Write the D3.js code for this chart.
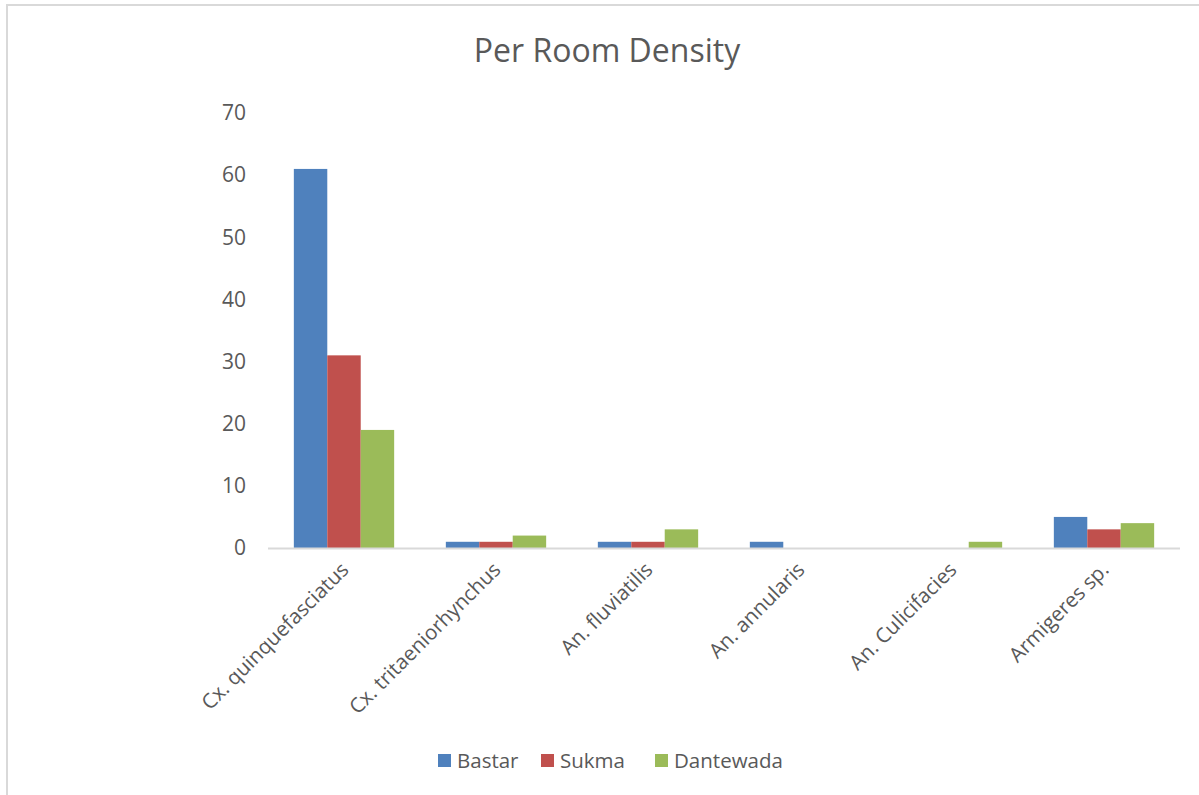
<!DOCTYPE html>
<html>
<head>
<meta charset="utf-8">
<script src="https://cdn.jsdelivr.net/npm/d3@7"></script>
<style>
  html, body { margin: 0; padding: 0; background: #fff; }
  svg { display: block; font-family: "Open Sans", "Noto Sans", sans-serif; }
</style>
</head>
<body>
<svg id="chart" width="1199" height="795"></svg>
<script>
// Per-room mosquito density by species and district
const categories = ["Cx. quinquefasciatus", "Cx. tritaeniorhynchus", "An. fluviatilis", "An. annularis", "An. Culicifacies", "Armigeres sp."];
const seriesNames = ["Bastar", "Sukma", "Dantewada"];
const bastar = [61, 1, 1, 1, 0, 5];
const sukma = [31, 1, 1, 0, 0, 3];
const dantewada = [19, 2, 3, 0, 1, 4];
const yTicks = [0, 10, 20, 30, 40, 50, 60, 70];
const colors = ["#4f81bd", "#c0504d", "#9bbb59"];

const values = [bastar, sukma, dantewada];
const svg = d3.select("#chart");

// chart frame
svg.append("path")
  .attr("d", "M7,795 V5 H1199")
  .attr("fill", "none")
  .attr("stroke", "#d9d9d9")
  .attr("stroke-width", 2);

const plot = { left: 268, right: 1180, top: 113, bottom: 548 };

const x0 = d3.scaleBand().domain(categories).range([plot.left, plot.right]).paddingInner(0.34).paddingOuter(0.17);
const x1 = d3.scaleBand().domain(seriesNames).range([0, x0.bandwidth()]);
const y = d3.scaleLinear().domain([0, 70]).range([plot.bottom, plot.top]);

// title
svg.append("text")
  .attr("x", 607).attr("y", 62)
  .attr("text-anchor", "middle")
  .attr("font-size", 32)
  .attr("fill", "#595959")
  .text("Per Room Density");

// y axis labels
const yAxis = svg.append("g").attr("transform", `translate(${plot.left - 22},0)`)
  .call(d3.axisLeft(y).tickValues(yTicks).tickSize(0).tickPadding(0));
yAxis.select(".domain").remove();
yAxis.selectAll("text").attr("font-size", 21).attr("fill", "#595959")
  .attr("font-family", "\"Open Sans\", \"Noto Sans\", sans-serif");

// bars
const groups = svg.append("g").selectAll("g")
  .data(seriesNames)
  .join("g")
  .attr("fill", (d, i) => colors[i]);

groups.selectAll("rect")
  .data((s, i) => categories.map((c, j) => ({ c, s, v: values[i][j] })))
  .join("rect")
  .filter(d => d.v > 0)
  .attr("x", d => x0(d.c) + x1(d.s))
  .attr("width", x1.bandwidth())
  .attr("y", d => y(d.v))
  .attr("height", d => y(0) - y(d.v));

// x axis line and rotated category labels
const xAxis = svg.append("g").attr("transform", `translate(0,${plot.bottom})`)
  .call(d3.axisBottom(x0).tickSize(0).tickPadding(0));
xAxis.select(".domain")
  .attr("d", `M${plot.left},0.5H${plot.right}`)
  .attr("stroke", "#d9d9d9").attr("stroke-width", 2);
xAxis.selectAll("text")
  .attr("font-size", 20.5).attr("fill", "#595959")
  .attr("font-family", "\"Open Sans\", \"Noto Sans\", sans-serif")
  .attr("text-anchor", "end")
  .attr("dy", null)
  .attr("transform", "translate(6,23) rotate(-45)");

// legend
const legendItems = [
  { name: "Bastar", x: 438 },
  { name: "Sukma", x: 541 },
  { name: "Dantewada", x: 655 }
];
const legend = svg.append("g");
legendItems.forEach((d, i) => {
  legend.append("rect").attr("x", d.x).attr("y", 754).attr("width", 13).attr("height", 13).attr("fill", colors[i]);
  legend.append("text").attr("x", d.x + 19).attr("y", 768)
    .attr("font-size", 20.5).attr("fill", "#595959").text(d.name);
});
</script>
</body>
</html>
